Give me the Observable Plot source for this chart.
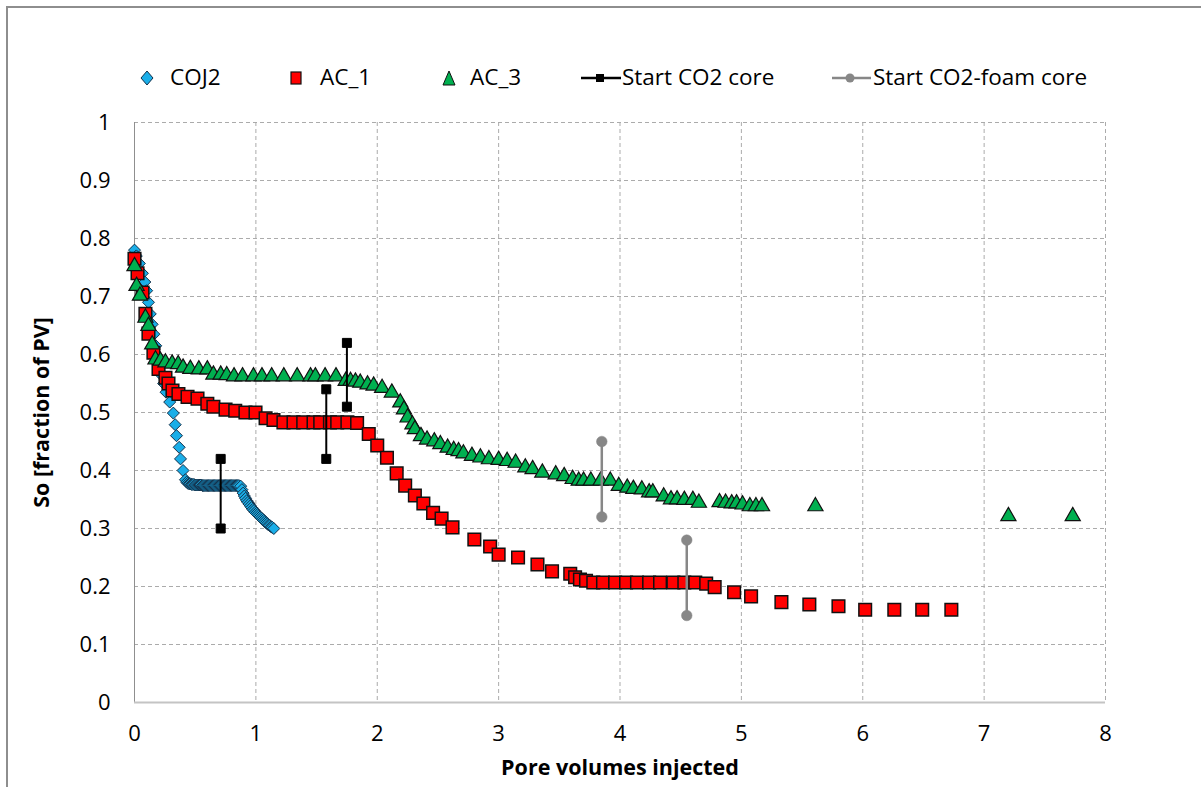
<!DOCTYPE html>
<html>
<head>
<meta charset="utf-8">
<script src="https://cdn.jsdelivr.net/npm/d3@7"></script>
<script src="https://cdn.jsdelivr.net/npm/@observablehq/plot@0.6"></script>
<style>
  body { margin: 0; background: #fff; font-family: "Open Sans", sans-serif; }
  #wrap { position: relative; width: 1201px; height: 787px; overflow: hidden; background: #fff; }
  #frame { position: absolute; left: 6px; top: 6px; width: 1400px; height: 1000px;
           border-top: 2px solid #8e8e8e; border-left: 2px solid #8e8e8e; }
  #legend { position: relative; height: 100px; }
  #legend svg { position: absolute; left: 0; top: 0; }
  .lt { position: absolute; top: 62px; font-size: 22.5px; line-height: 30px; color: #000; white-space: nowrap; }
  #chart { position: relative; }
</style>
</head>
<body>
<div id="wrap">
  <div id="frame"></div>
  <div id="legend"></div>
  <div id="chart"></div>
</div>
<script>
// ---------- data ----------
const xTicks = [0, 1, 2, 3, 4, 5, 6, 7, 8];
const yTicks = [0, 0.1, 0.2, 0.3, 0.4, 0.5, 0.6, 0.7, 0.8, 0.9, 1];
const xGridTicks = [1, 2, 3, 4, 5, 6, 7, 8];
const yGridTicks = [0.1, 0.2, 0.3, 0.4, 0.5, 0.6, 0.7, 0.8, 0.9, 1];

const seriesNames = ["COJ2", "AC_1", "AC_3", "Start CO2 core", "Start CO2-foam core"];

const coj2X = [0, 0.015, 0.04, 0.065, 0.085, 0.10, 0.115, 0.13, 0.145, 0.16, 0.175, 0.19, 0.205, 0.22, 0.24, 0.26,
  0.29, 0.32, 0.335, 0.346, 0.368, 0.379, 0.40, 0.42, 0.43,
  0.44, 0.45, 0.46, 0.47, 0.48, 0.49, 0.50, 0.51, 0.52, 0.53, 0.54, 0.55, 0.56, 0.57, 0.58, 0.59, 0.60, 0.61, 0.62,
  0.63, 0.64, 0.65, 0.66, 0.67, 0.68, 0.69, 0.70, 0.71, 0.72, 0.73, 0.74, 0.75, 0.76, 0.77, 0.78, 0.79, 0.80, 0.81,
  0.82, 0.83, 0.84, 0.85, 0.86,
  0.875, 0.885, 0.895, 0.905, 0.915, 0.925, 0.935, 0.945, 0.955, 0.965, 0.975, 0.985, 0.995, 1.005, 1.015, 1.025,
  1.035, 1.045, 1.055, 1.065, 1.075, 1.085, 1.095, 1.105, 1.115, 1.125, 1.135, 1.148];
const coj2Y = [0.78, 0.77, 0.757, 0.74, 0.725, 0.71, 0.69, 0.67, 0.652, 0.635, 0.615, 0.597, 0.58, 0.565, 0.55, 0.535,
  0.518, 0.499, 0.479, 0.46, 0.44, 0.42, 0.40, 0.384, 0.380,
  0.378, 0.377, 0.377, 0.376, 0.376, 0.376, 0.375, 0.375, 0.375, 0.375, 0.375, 0.375, 0.374, 0.374, 0.374, 0.374, 0.374, 0.374, 0.374,
  0.374, 0.374, 0.374, 0.374, 0.374, 0.374, 0.374, 0.374, 0.374, 0.374, 0.374, 0.374, 0.374, 0.374, 0.374, 0.374, 0.374, 0.374, 0.374,
  0.374, 0.374, 0.374, 0.374, 0.374,
  0.373, 0.367, 0.361, 0.356, 0.352, 0.348, 0.345, 0.342, 0.339, 0.336, 0.333, 0.331, 0.328, 0.326, 0.324, 0.322,
  0.320, 0.318, 0.316, 0.314, 0.312, 0.310, 0.308, 0.306, 0.305, 0.303, 0.302, 0.300];

const ac1X = [0, 0.025, 0.066, 0.09, 0.115, 0.156, 0.198, 0.255, 0.28, 0.313, 0.362, 0.437, 0.519, 0.60, 0.65, 0.75,
  0.83, 0.914, 0.997, 1.08, 1.145, 1.227, 1.31, 1.39, 1.475, 1.53, 1.61, 1.67, 1.754, 1.834, 1.93, 2.0, 2.08, 2.16,
  2.23, 2.31, 2.38, 2.46, 2.53, 2.62, 2.80, 2.93, 3.0, 3.16, 3.32, 3.44, 3.59, 3.63, 3.67, 3.72, 3.78, 3.86, 3.96,
  4.05, 4.14, 4.24, 4.33, 4.44, 4.53, 4.62, 4.71, 4.78, 4.94, 5.08, 5.33, 5.56, 5.80, 6.02, 6.26, 6.49, 6.73];
const ac1Y = [0.765, 0.74, 0.707, 0.67, 0.636, 0.603, 0.575, 0.56, 0.55, 0.538, 0.532, 0.527, 0.524, 0.515, 0.51, 0.505,
  0.503, 0.50, 0.50, 0.49, 0.487, 0.483, 0.483, 0.483, 0.483, 0.483, 0.483, 0.483, 0.483, 0.482, 0.463, 0.443, 0.422, 0.395,
  0.374, 0.357, 0.343, 0.327, 0.317, 0.302, 0.281, 0.269, 0.255, 0.25, 0.238, 0.226, 0.222, 0.216, 0.212, 0.21, 0.207, 0.207, 0.207,
  0.207, 0.207, 0.207, 0.207, 0.207, 0.207, 0.207, 0.205, 0.199, 0.19, 0.183, 0.173, 0.169, 0.166, 0.160, 0.160, 0.160, 0.160];

const ac3X = [0, 0.017, 0.045, 0.09, 0.115, 0.146, 0.173, 0.214, 0.255, 0.31, 0.36, 0.40, 0.46, 0.53, 0.60, 0.65, 0.71,
  0.76, 0.82, 0.89, 0.98, 1.05, 1.13, 1.23, 1.34, 1.45, 1.49, 1.57, 1.66, 1.74, 1.78, 1.82, 1.86, 1.92, 1.97, 2.04, 2.12,
  2.19, 2.22, 2.25, 2.29, 2.31, 2.36, 2.41, 2.47, 2.52, 2.58, 2.63, 2.67, 2.71, 2.78, 2.85, 2.92, 3.0, 3.07, 3.14, 3.22,
  3.28, 3.36, 3.47, 3.54, 3.61, 3.66, 3.70, 3.76, 3.84, 3.92, 3.99, 4.06, 4.11, 4.18, 4.24, 4.27, 4.36, 4.42, 4.47, 4.53,
  4.60, 4.65, 4.82, 4.87, 4.92, 4.96, 5.01, 5.07, 5.12, 5.17, 5.61, 7.20, 7.73];
const ac3Y = [0.756, 0.722, 0.705, 0.667, 0.653, 0.621, 0.595, 0.593, 0.59, 0.588, 0.587, 0.581, 0.579, 0.578, 0.578, 0.569, 0.569,
  0.568, 0.566, 0.566, 0.566, 0.566, 0.566, 0.566, 0.566, 0.566, 0.566, 0.566, 0.566, 0.558, 0.558, 0.557, 0.555, 0.552, 0.55, 0.546, 0.538,
  0.521, 0.509, 0.495, 0.483, 0.475, 0.463, 0.457, 0.454, 0.449, 0.443, 0.439, 0.437, 0.433, 0.429, 0.426, 0.423, 0.422, 0.42, 0.417, 0.409,
  0.406, 0.40, 0.397, 0.394, 0.389, 0.386, 0.386, 0.386, 0.386, 0.386, 0.377, 0.374, 0.372, 0.371, 0.366, 0.366, 0.359, 0.354, 0.354, 0.353,
  0.353, 0.348, 0.349, 0.348, 0.347, 0.347, 0.345, 0.342, 0.342, 0.342, 0.342, 0.325, 0.325];

const co2StartX = [0.71, 1.58, 1.75];
const co2StartTop = [0.42, 0.54, 0.62];
const co2StartBottom = [0.30, 0.42, 0.51];

const foamStartX = [3.85, 4.55];
const foamStartTop = [0.45, 0.28];
const foamStartBottom = [0.32, 0.15];

// ---------- build tables ----------
const toRows = (xs, ys) => xs.map((x, i) => ({x, y: ys[i]}));
const coj2 = toRows(coj2X, coj2Y);
const ac1 = toRows(ac1X, ac1Y);
const ac3 = toRows(ac3X, ac3Y);
const co2Start = co2StartX.map((x, i) => ({x, y1: co2StartTop[i], y2: co2StartBottom[i]}));
const foamStart = foamStartX.map((x, i) => ({x, y1: foamStartTop[i], y2: foamStartBottom[i]}));
const ends = (rows) => rows.flatMap(d => [{x: d.x, y: d.y1}, {x: d.x, y: d.y2}]);

// ---------- custom Excel-like symbols ----------
const rOf = size => Math.sqrt(size / Math.PI);
const diamondSym = {draw(c, size) { const r = rOf(size); c.moveTo(0, -r); c.lineTo(r, 0); c.lineTo(0, r); c.lineTo(-r, 0); c.closePath(); }};
const squareSym = {draw(c, size) { const r = rOf(size); c.moveTo(-r, -r); c.lineTo(r, -r); c.lineTo(r, r); c.lineTo(-r, r); c.closePath(); }};
const triSym = {draw(c, size) { const r = rOf(size); c.moveTo(0, -r); c.lineTo(1.15 * r, r); c.lineTo(-1.15 * r, r); c.closePath(); }};

const COLORS = {coj2: "#1aaee8", ac1: "#ff0000", ac3: "#00b050", co2: "#000000", foam: "#878787"};
const gridStyle = {stroke: "#ababab", strokeOpacity: 1, strokeDasharray: "4,3"};

const chart = Plot.plot({
  width: 1201,
  height: 687,
  marginTop: 22,
  marginBottom: 85,
  marginLeft: 134,
  marginRight: 96,
  x: {domain: [0, 8]},
  y: {domain: [0, 1]},
  style: {fontFamily: "'Open Sans', sans-serif", fontSize: "22px", color: "#000", background: "transparent", overflow: "visible"},
  marks: [
    Plot.gridY(yGridTicks, gridStyle),
    Plot.gridX(xGridTicks, gridStyle),
    Plot.ruleX([0], {stroke: "#8f8f8f", strokeWidth: 1}),
    Plot.ruleY([0], {stroke: "#c4c4c4", strokeWidth: 2}),
    Plot.axisY(yTicks, {tickSize: 0, tickPadding: 24, tickFormat: d => String(d), label: null}),
    Plot.axisX(xTicks, {tickSize: 0, tickPadding: 23, tickFormat: d => String(d), label: null}),
    Plot.dot(coj2, {x: "x", y: "y", symbol: diamondSym, r: 6, fill: COLORS.coj2, stroke: "#13304a", strokeWidth: 1}),
    Plot.dot(ac1, {x: "x", y: "y", symbol: squareSym, r: 6.3, fill: COLORS.ac1, stroke: "#111", strokeWidth: 1.5}),
    Plot.dot(ac3, {x: "x", y: "y", symbol: triSym, r: 6.6, fill: COLORS.ac3, stroke: "#111", strokeWidth: 1.2}),
    Plot.ruleX(co2Start, {x: "x", y1: "y1", y2: "y2", stroke: COLORS.co2, strokeWidth: 2}),
    Plot.dot(ends(co2Start), {x: "x", y: "y", symbol: squareSym, r: 4.5, fill: COLORS.co2, stroke: COLORS.co2, strokeWidth: 1}),
    Plot.ruleX(foamStart, {x: "x", y1: "y1", y2: "y2", stroke: COLORS.foam, strokeWidth: 2.5}),
    Plot.dot(ends(foamStart), {x: "x", y: "y", r: 5.3, fill: COLORS.foam, stroke: COLORS.foam, strokeWidth: 0.5}),
    Plot.text(["Pore volumes injected"], {frameAnchor: "bottom", lineAnchor: "middle", textAnchor: "middle", dy: 66, fontWeight: "bold", fontSize: 21.5, fill: "#000"}),
    Plot.text(["So [fraction of PV]"], {frameAnchor: "left", lineAnchor: "middle", textAnchor: "middle", rotate: -90, dx: -92, fontWeight: "bold", fontSize: 21.5, fill: "#000"})
  ]
});
document.getElementById("chart").appendChild(chart);

// ---------- legend ----------
const legend = document.getElementById("legend");
const legendItems = [
  {name: seriesNames[0], textLeft: 170},
  {name: seriesNames[1], textLeft: 320},
  {name: seriesNames[2], textLeft: 470},
  {name: seriesNames[3], textLeft: 622},
  {name: seriesNames[4], textLeft: 873}
];
const ns = "http://www.w3.org/2000/svg";
const lsvg = document.createElementNS(ns, "svg");
lsvg.setAttribute("width", 1201);
lsvg.setAttribute("height", 100);
lsvg.innerHTML = `
  <path d="M147,71 L153,78 L147,85 L141,78 Z" fill="${COLORS.coj2}" stroke="#13304a" stroke-width="1"/>
  <rect x="291" y="72" width="10" height="12" fill="${COLORS.ac1}" stroke="#111" stroke-width="1.2"/>
  <path d="M449,71 L455,85 L443,85 Z" fill="${COLORS.ac3}" stroke="#111" stroke-width="1"/>
  <line x1="581" y1="78" x2="621" y2="78" stroke="${COLORS.co2}" stroke-width="2.5"/>
  <rect x="596" y="74" width="8" height="8" fill="${COLORS.co2}"/>
  <line x1="832" y1="78" x2="871" y2="78" stroke="${COLORS.foam}" stroke-width="2.5"/>
  <circle cx="850" cy="78" r="4.5" fill="${COLORS.foam}"/>
`;
legend.appendChild(lsvg);
for (const it of legendItems) {
  const s = document.createElement("span");
  s.className = "lt";
  s.style.left = it.textLeft + "px";
  s.textContent = it.name;
  legend.appendChild(s);
}
</script>
</body>
</html>
